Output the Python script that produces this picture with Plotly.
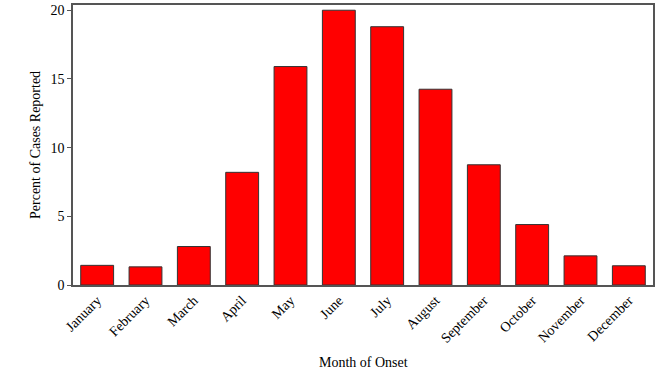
import plotly.graph_objects as go

months = ["January", "February", "March", "April", "May", "June",
          "July", "August", "September", "October", "November", "December"]
percent = [1.43, 1.32, 2.8, 8.2, 15.9, 20.0, 18.8, 14.25, 8.75, 4.4, 2.12, 1.4]

fig = go.Figure(go.Bar(
    x=months, y=percent,
    marker=dict(color="#FF0000", line=dict(color="#333333", width=1)),
))

font = "Liberation Serif, Times New Roman, serif"
fig.update_layout(
    width=672, height=377,
    margin=dict(l=73, r=19, t=5, b=92, autoexpand=False),
    paper_bgcolor="white", plot_bgcolor="white",
    bargap=0.32,
    showlegend=False,
    font=dict(family=font, size=14, color="black"),
    annotations=[
        dict(text="Month of Onset", xref="paper", yref="paper", x=0.5,
             y=-(362 - 285) / 280, yanchor="middle", showarrow=False,
             font=dict(size=14)),
        dict(text="Percent of Cases Reported", xref="paper", yref="paper",
             x=-(73 - 35) / 580, xanchor="center", y=0.5, yanchor="middle",
             textangle=-90, showarrow=False, font=dict(size=14)),
    ],
)
fig.update_xaxes(
    tickangle=-45, showline=True, linecolor="#555555", linewidth=1.5,
    mirror=True, ticks="", showgrid=False, automargin=False,
)
fig.update_yaxes(
    range=[0, 20.38], tickvals=[0, 5, 10, 15, 20], showline=True,
    linecolor="#555555", linewidth=1.5, mirror=True, ticks="outside",
    ticklen=4, tickcolor="#555555", showgrid=False, zeroline=False,
    automargin=False,
)
fig.write_html("out.html", config={"displayModeBar": False},
               post_script="document.body.style.margin='0';document.body.style.overflow='hidden';")
